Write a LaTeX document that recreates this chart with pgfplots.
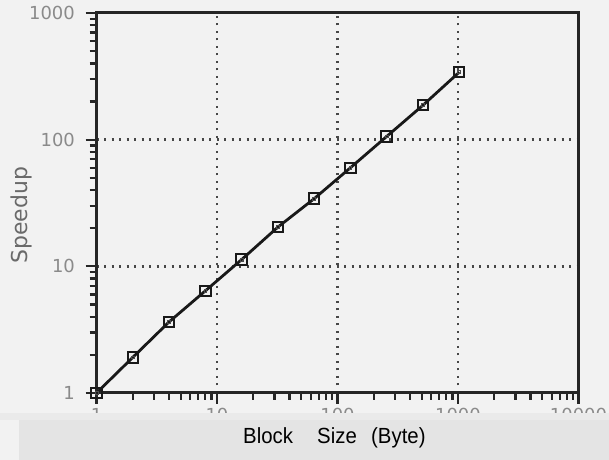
\documentclass[border=0pt]{standalone}
\usepackage{fontspec}
\setmainfont{Liberation Sans}
\newfontfamily\bandfont[FakeStretch=0.93]{Liberation Sans}
\newfontfamily\lightfont{DejaVu Sans}
\usepackage{pgfplots}
\pgfplotsset{compat=1.18}
\definecolor{bg}{HTML}{F2F2F2}
\definecolor{band}{HTML}{E4E4E4}
\definecolor{strip}{HTML}{EAEAEA}
\definecolor{lbl}{HTML}{8A8A8A}
\definecolor{ylbl}{HTML}{6A6A6A}
\begin{document}
\begin{tikzpicture}[x=1bp,y=1bp]
\path[use as bounding box, fill=bg] (0,0) rectangle (609,460);
\begin{axis}[
  at={(96.5bp,67bp)}, anchor=south west,
  scale only axis, width=482bp, height=380bp,
  xmode=log, ymode=log,
  xmin=1, xmax=10000, ymin=1, ymax=1000,
  xtick={1,10,100,1000,10000}, xticklabels={1,10,100,1000,10000},
  ytick={1,10,100,1000}, yticklabels={1,10,100,1000},
  minor xtick={2,3,4,5,6,7,8,9,20,30,40,50,60,70,80,90,200,300,400,500,600,700,800,900,2000,3000,4000,5000,6000,7000,8000,9000},
  minor ytick={2,3,4,5,6,7,8,9,20,30,40,50,60,70,80,90,200,300,400,500,600,700,800,900},
  tick pos=left, tick align=outside,
  major tick length=11bp, minor tick length=7bp,
  tick style={black!85, line width=2.3bp},
  axis line style={black!85, line width=3bp},
  grid=major,
  major grid style={black!72, line width=2.6bp, dash pattern=on 2.4bp off 5.1bp},
  tick label style={font=\lightfont\fontsize{18}{18}\selectfont, text=lbl},
  yticklabel style={inner sep=0pt, xshift=-10.5bp},
  xticklabel style={inner sep=0pt, yshift=-4bp},
  ylabel={Speedup},
  ylabel style={font=\lightfont\fontsize{22}{22}\selectfont, text=ylbl, at={(axis description cs:-0.155,0.468)}, anchor=center},
  clip=false,
]
\addplot[black!90, line width=2.8bp, mark=square, mark size=5.2bp, mark options={solid, fill=white, line width=2bp}] coordinates {(1,1)(2,1.91)(4,3.64)(8,6.4)(16,11.3)(32,20.4)(64,34.2)(128,60)(256,106)(512,187)(1024,341)};
\addplot[only marks, mark=square, mark size=1.4bp, mark options={black!70, line width=0.8bp}] coordinates {(1,1)(2,1.91)(4,3.64)(8,6.4)(16,11.3)(32,20.4)(64,34.2)(128,60)(256,106)(512,187)(1024,341)};
\end{axis}
\fill[strip] (0,40) rectangle (609,47);
\fill[band] (19,0) rectangle (609,40);
\node[anchor=base west, inner sep=0pt, font=\bandfont\fontsize{22}{22}\selectfont] at (243,16) {Block};
\node[anchor=base west, inner sep=0pt, font=\bandfont\fontsize{22}{22}\selectfont] at (317,16) {Size};
\node[anchor=base west, inner sep=0pt, font=\bandfont\fontsize{22}{22}\selectfont] at (371,16) {(Byte)};
\end{tikzpicture}
\end{document}
